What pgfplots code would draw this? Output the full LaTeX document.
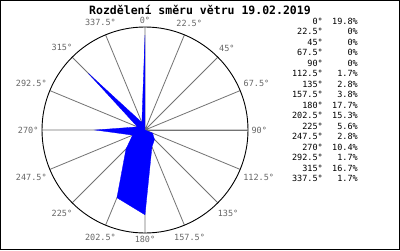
\documentclass[border=0pt]{standalone}
\usepackage{pgfplots}
\pgfplotsset{compat=1.18}
\usepackage{pgfplotstable}
\usepgfplotslibrary{polar}
\usepackage{fontspec}
\setmainfont{DejaVu Sans Mono}
\setmonofont{DejaVu Sans Mono}
\pgfplotstableread{
dir pct
0 19.8
22.5 0
45 0
67.5 0
90 0
112.5 1.7
135 2.8
157.5 3.8
180 17.7
202.5 15.3
225 5.6
247.5 2.8
270 10.4
292.5 1.7
315 16.7
337.5 1.7
360 19.8
}\winddata
\begin{document}
\begin{tikzpicture}
\fill[white] (0pt,0pt) rectangle (400pt,250pt);
\begin{polaraxis}[
  at={(145pt,120pt)}, anchor=origin,
  width=206pt, height=206pt, scale only axis,
  xmin=0, xmax=360, ymin=0, ymax=21.5,
  ytick=\empty,
  xtick={0,22.5,45,67.5,90,112.5,135,157.5,180,202.5,225,247.5,270,292.5,315,337.5},
  xticklabels={90°,67.5°,45°,22.5°,0°,337.5°,315°,292.5°,270°,247.5°,225°,202.5°,180°,157.5°,135°,112.5°},
  xmajorgrids,
  major grid style={draw=black!55, line width=0.8pt},
  x axis line style={black, line width=0.9pt},
  y axis line style={draw=black!55, line width=0.8pt},
  major tick length=0pt,
  tick label style={font=\fontsize{8.5}{10}\selectfont, text=black!60},
]
\addplot[fill=blue, draw=blue, line width=0.3pt] table[x expr={mod(450-\thisrow{dir},360)}, y=pct] {\winddata};
\end{polaraxis}
\node[anchor=base, font=\bfseries\fontsize{11.5}{13}\selectfont] at (200pt,236pt) {Rozdělení směru větru 19.02.2019};
\foreach \d/\p [count=\i from 0] in {0°/19.8\%,22.5°/0\%,45°/0\%,67.5°/0\%,90°/0\%,112.5°/1.7\%,135°/2.8\%,157.5°/3.8\%,180°/17.7\%,202.5°/15.3\%,225°/5.6\%,247.5°/2.8\%,270°/10.4\%,292.5°/1.7\%,315°/16.7\%,337.5°/1.7\%}{
  \node[anchor=base east, inner sep=0pt, font=\fontsize{8.5}{10}\selectfont] at (323pt,{(226-10.53*\i)*1pt}) {\d};
  \node[anchor=base east, inner sep=0pt, font=\fontsize{8.5}{10}\selectfont] at (358pt,{(226-10.53*\i)*1pt}) {\p};
}
\draw[line width=1pt] (0.5pt,0.5pt) rectangle (399.5pt,249.5pt);
\end{tikzpicture}
\end{document}
